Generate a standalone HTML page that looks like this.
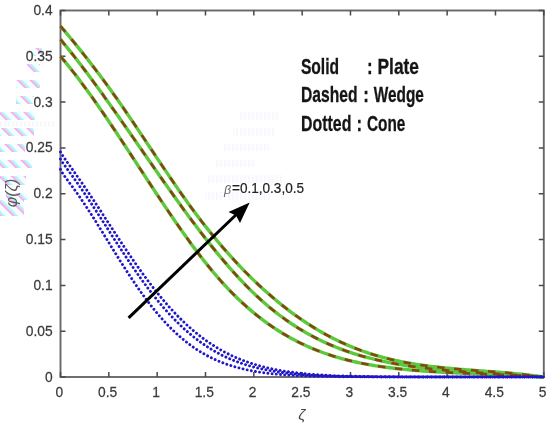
<!DOCTYPE html>
<html><head><meta charset="utf-8"><style>
html,body{margin:0;padding:0;background:#fff;}
body{width:550px;height:429px;overflow:hidden;}
svg{display:block;will-change:transform;}
text{font-family:"Liberation Sans",sans-serif;}
.tl text{font-size:15px;fill:#3a3a3a;stroke:#3a3a3a;stroke-width:0.25;}
.g{fill:none;stroke:#5cc83a;stroke-width:3.4;stroke-linejoin:round;}
.d{fill:none;stroke:#864614;stroke-width:2.6;stroke-dasharray:7.5 9.5;}
.b{fill:none;stroke:#1e16c8;stroke-width:2.9;stroke-dasharray:0.01 4.2;stroke-linecap:round;}
.lg{font-family:"Liberation Sans",sans-serif;font-weight:bold;font-size:22.5px;fill:#151515;stroke:#151515;stroke-width:0.3;}
</style></head><body>
<svg width="550" height="429" viewBox="0 0 550 429">
<rect width="550" height="429" fill="#fff"/>
<defs>
<pattern id="dg" width="9" height="9" patternUnits="userSpaceOnUse" patternTransform="rotate(-45)">
<rect x="0" y="0" width="2.2" height="9" fill="#ff90e8"/><rect x="2.2" y="0" width="2.2" height="9" fill="#88f4f4"/><rect x="4.4" y="0" width="4.6" height="9" fill="#f2fefe"/>
</pattern>
<pattern id="vs" width="4" height="8" patternUnits="userSpaceOnUse">
<rect x="0" y="0" width="1.3" height="8" fill="#ffc8f0"/><rect x="1.3" y="0" width="1.3" height="8" fill="#c4fafa"/>
</pattern>
</defs>
<g fill="url(#dg)" opacity="0.75">
<rect x="32" y="48" width="10" height="8"/>
<rect x="27" y="64" width="13" height="8"/>
<rect x="16" y="80" width="24" height="8"/>
<rect x="16" y="96" width="18" height="8"/>
<rect x="0" y="112" width="35" height="8"/>
<rect x="0" y="128" width="34" height="8"/>
<rect x="0" y="144" width="25" height="8"/>
<rect x="0" y="160" width="32" height="8"/>
<rect x="0" y="176" width="26" height="9"/>
<rect x="6" y="193" width="22" height="7"/>
<rect x="0" y="200" width="24" height="16"/>
</g>
<g fill="url(#vs)" opacity="0.22">
<rect x="0" y="121" width="55" height="6"/>
<rect x="240" y="112" width="39" height="8"/>
<rect x="233" y="128" width="43" height="8"/>
<rect x="224" y="144" width="45" height="7"/>
<rect x="216" y="160" width="40" height="7"/>
<rect x="207" y="175" width="75" height="8"/>
<rect x="205" y="192" width="65" height="8"/>
</g>
<rect x="60.5" y="10.5" width="483.30" height="366.50" fill="none" stroke="#686868" stroke-width="1.9"/>
<path d="M60.5,377.00 h5 M543.8,377.00 h-5 M60.5,331.19 h5 M543.8,331.19 h-5 M60.5,285.38 h5 M543.8,285.38 h-5 M60.5,239.56 h5 M543.8,239.56 h-5 M60.5,193.75 h5 M543.8,193.75 h-5 M60.5,147.94 h5 M543.8,147.94 h-5 M60.5,102.12 h5 M543.8,102.12 h-5 M60.5,56.31 h5 M543.8,56.31 h-5 M60.5,10.50 h5 M543.8,10.50 h-5 M60.50,377.0 v-5 M60.50,10.5 v5 M108.83,377.0 v-5 M108.83,10.5 v5 M157.16,377.0 v-5 M157.16,10.5 v5 M205.49,377.0 v-5 M205.49,10.5 v5 M253.82,377.0 v-5 M253.82,10.5 v5 M302.15,377.0 v-5 M302.15,10.5 v5 M350.48,377.0 v-5 M350.48,10.5 v5 M398.81,377.0 v-5 M398.81,10.5 v5 M447.14,377.0 v-5 M447.14,10.5 v5 M495.47,377.0 v-5 M495.47,10.5 v5 M543.80,377.0 v-5 M543.80,10.5 v5" stroke="#4a4a4a" stroke-width="1.5" fill="none"/>
<path d="M60.50,26.19 L62.52,28.56 L64.54,30.96 L66.57,33.36 L68.59,35.78 L70.61,38.22 L72.63,40.67 L74.66,43.14 L76.68,45.63 L78.70,48.13 L80.72,50.65 L82.74,53.18 L84.77,55.73 L86.79,58.30 L88.81,60.89 L90.83,63.49 L92.85,66.12 L94.88,68.76 L96.90,71.42 L98.92,74.10 L100.94,76.80 L102.97,79.52 L104.99,82.25 L107.01,85.01 L109.03,87.79 L111.05,90.58 L113.08,93.40 L115.10,96.24 L117.12,99.10 L119.14,101.98 L121.17,104.88 L123.19,107.79 L125.21,110.72 L127.23,113.67 L129.25,116.63 L131.28,119.61 L133.30,122.60 L135.32,125.59 L137.34,128.60 L139.36,131.61 L141.39,134.63 L143.41,137.65 L145.43,140.68 L147.45,143.71 L149.48,146.75 L151.50,149.78 L153.52,152.81 L155.54,155.84 L157.56,158.86 L159.59,161.88 L161.61,164.90 L163.63,167.90 L165.65,170.90 L167.68,173.89 L169.70,176.86 L171.72,179.83 L173.74,182.78 L175.76,185.71 L177.79,188.63 L179.81,191.53 L181.83,194.41 L183.85,197.27 L185.87,200.11 L187.90,202.93 L189.92,205.72 L191.94,208.49 L193.96,211.23 L195.99,213.94 L198.01,216.63 L200.03,219.29 L202.05,221.92 L204.07,224.53 L206.10,227.11 L208.12,229.66 L210.14,232.18 L212.16,234.68 L214.19,237.15 L216.21,239.60 L218.23,242.02 L220.25,244.41 L222.27,246.77 L224.30,249.11 L226.32,251.43 L228.34,253.71 L230.36,255.97 L232.38,258.21 L234.41,260.42 L236.43,262.60 L238.45,264.76 L240.47,266.89 L242.50,269.00 L244.52,271.08 L246.54,273.13 L248.56,275.16 L250.58,277.17 L252.61,279.15 L254.63,281.10 L256.65,283.03 L258.67,284.93 L260.70,286.81 L262.72,288.67 L264.74,290.50 L266.76,292.30 L268.78,294.08 L270.81,295.84 L272.83,297.57 L274.85,299.28 L276.87,300.96 L278.89,302.62 L280.92,304.26 L282.94,305.87 L284.96,307.46 L286.98,309.02 L289.01,310.56 L291.03,312.07 L293.05,313.56 L295.07,315.03 L297.09,316.48 L299.12,317.90 L301.14,319.30 L303.16,320.67 L305.18,322.02 L307.21,323.35 L309.23,324.66 L311.25,325.94 L313.27,327.20 L315.29,328.43 L317.32,329.65 L319.34,330.84 L321.36,332.01 L323.38,333.15 L325.41,334.28 L327.43,335.38 L329.45,336.46 L331.47,337.51 L333.49,338.55 L335.52,339.56 L337.54,340.55 L339.56,341.52 L341.58,342.47 L343.60,343.39 L345.63,344.30 L347.65,345.18 L349.67,346.04 L351.69,346.88 L353.72,347.70 L355.74,348.49 L357.76,349.27 L359.78,350.03 L361.80,350.76 L363.83,351.48 L365.85,352.18 L367.87,352.86 L369.89,353.52 L371.92,354.16 L373.94,354.78 L375.96,355.39 L377.98,355.98 L380.00,356.55 L382.03,357.11 L384.05,357.64 L386.07,358.17 L388.09,358.68 L390.11,359.17 L392.14,359.65 L394.16,360.11 L396.18,360.56 L398.20,360.99 L400.23,361.41 L402.25,361.82 L404.27,362.22 L406.29,362.60 L408.31,362.97 L410.34,363.33 L412.36,363.67 L414.38,364.01 L416.40,364.33 L418.43,364.65 L420.45,364.95 L422.47,365.24 L424.49,365.53 L426.51,365.80 L428.54,366.07 L430.56,366.32 L432.58,366.57 L434.60,366.81 L436.62,367.05 L438.65,367.27 L440.67,367.49 L442.69,367.70 L444.71,367.91 L446.74,368.11 L448.76,368.30 L450.78,368.49 L452.80,368.67 L454.82,368.85 L456.85,369.02 L458.87,369.19 L460.89,369.36 L462.91,369.52 L464.94,369.68 L466.96,369.84 L468.98,369.99 L471.00,370.15 L473.02,370.30 L475.05,370.45 L477.07,370.60 L479.09,370.74 L481.11,370.89 L483.13,371.04 L485.16,371.19 L487.18,371.34 L489.20,371.48 L491.22,371.64 L493.25,371.79 L495.27,371.94 L497.29,372.10 L499.31,372.26 L501.33,372.42 L503.36,372.58 L505.38,372.75 L507.40,372.92 L509.42,373.10 L511.45,373.28 L513.47,373.47 L515.49,373.66 L517.51,373.85 L519.53,374.06 L521.56,374.27 L523.58,374.48 L525.60,374.70 L527.62,374.93 L529.64,375.17 L531.67,375.41 L533.69,375.67 L535.71,375.93 L537.73,376.20 L539.76,376.48 L541.78,376.77 L543.80,377.00" class="g"/><path d="M60.50,39.43 L62.52,41.87 L64.54,44.33 L66.57,46.82 L68.59,49.33 L70.61,51.86 L72.63,54.41 L74.66,56.98 L76.68,59.57 L78.70,62.18 L80.72,64.81 L82.74,67.46 L84.77,70.13 L86.79,72.82 L88.81,75.52 L90.83,78.23 L92.85,80.97 L94.88,83.71 L96.90,86.48 L98.92,89.25 L100.94,92.04 L102.97,94.84 L104.99,97.65 L107.01,100.47 L109.03,103.30 L111.05,106.14 L113.08,109.00 L115.10,111.86 L117.12,114.72 L119.14,117.60 L121.17,120.48 L123.19,123.37 L125.21,126.26 L127.23,129.16 L129.25,132.06 L131.28,134.96 L133.30,137.87 L135.32,140.78 L137.34,143.69 L139.36,146.61 L141.39,149.52 L143.41,152.43 L145.43,155.34 L147.45,158.25 L149.48,161.16 L151.50,164.07 L153.52,166.97 L155.54,169.87 L157.56,172.76 L159.59,175.65 L161.61,178.53 L163.63,181.41 L165.65,184.28 L167.68,187.14 L169.70,189.99 L171.72,192.84 L173.74,195.67 L175.76,198.50 L177.79,201.31 L179.81,204.11 L181.83,206.90 L183.85,209.68 L185.87,212.44 L187.90,215.19 L189.92,217.93 L191.94,220.65 L193.96,223.35 L195.99,226.04 L198.01,228.71 L200.03,231.37 L202.05,234.00 L204.07,236.62 L206.10,239.21 L208.12,241.79 L210.14,244.34 L212.16,246.88 L214.19,249.39 L216.21,251.88 L218.23,254.35 L220.25,256.79 L222.27,259.21 L224.30,261.60 L226.32,263.96 L228.34,266.31 L230.36,268.62 L232.38,270.90 L234.41,273.16 L236.43,275.39 L238.45,277.59 L240.47,279.76 L242.50,281.90 L244.52,284.00 L246.54,286.08 L248.56,288.12 L250.58,290.13 L252.61,292.10 L254.63,294.04 L256.65,295.95 L258.67,297.82 L260.70,299.66 L262.72,301.46 L264.74,303.23 L266.76,304.97 L268.78,306.68 L270.81,308.35 L272.83,309.99 L274.85,311.60 L276.87,313.18 L278.89,314.73 L280.92,316.24 L282.94,317.73 L284.96,319.19 L286.98,320.62 L289.01,322.02 L291.03,323.39 L293.05,324.73 L295.07,326.04 L297.09,327.33 L299.12,328.59 L301.14,329.82 L303.16,331.02 L305.18,332.20 L307.21,333.36 L309.23,334.48 L311.25,335.59 L313.27,336.66 L315.29,337.72 L317.32,338.75 L319.34,339.75 L321.36,340.73 L323.38,341.69 L325.41,342.63 L327.43,343.54 L329.45,344.44 L331.47,345.31 L333.49,346.16 L335.52,346.98 L337.54,347.79 L339.56,348.58 L341.58,349.35 L343.60,350.10 L345.63,350.83 L347.65,351.54 L349.67,352.23 L351.69,352.90 L353.72,353.56 L355.74,354.20 L357.76,354.82 L359.78,355.42 L361.80,356.01 L363.83,356.59 L365.85,357.14 L367.87,357.68 L369.89,358.21 L371.92,358.72 L373.94,359.22 L375.96,359.71 L377.98,360.18 L380.00,360.64 L382.03,361.08 L384.05,361.51 L386.07,361.93 L388.09,362.34 L390.11,362.74 L392.14,363.13 L394.16,363.50 L396.18,363.87 L398.20,364.23 L400.23,364.57 L402.25,364.91 L404.27,365.24 L406.29,365.55 L408.31,365.86 L410.34,366.17 L412.36,366.46 L414.38,366.74 L416.40,367.02 L418.43,367.29 L420.45,367.55 L422.47,367.81 L424.49,368.05 L426.51,368.29 L428.54,368.53 L430.56,368.75 L432.58,368.97 L434.60,369.19 L436.62,369.40 L438.65,369.60 L440.67,369.80 L442.69,369.99 L444.71,370.17 L446.74,370.35 L448.76,370.53 L450.78,370.70 L452.80,370.87 L454.82,371.03 L456.85,371.19 L458.87,371.35 L460.89,371.50 L462.91,371.65 L464.94,371.79 L466.96,371.93 L468.98,372.07 L471.00,372.21 L473.02,372.34 L475.05,372.48 L477.07,372.61 L479.09,372.73 L481.11,372.86 L483.13,372.99 L485.16,373.11 L487.18,373.23 L489.20,373.35 L491.22,373.47 L493.25,373.59 L495.27,373.71 L497.29,373.83 L499.31,373.96 L501.33,374.08 L503.36,374.20 L505.38,374.32 L507.40,374.44 L509.42,374.57 L511.45,374.69 L513.47,374.82 L515.49,374.95 L517.51,375.08 L519.53,375.21 L521.56,375.34 L523.58,375.48 L525.60,375.62 L527.62,375.76 L529.64,375.91 L531.67,376.06 L533.69,376.21 L535.71,376.37 L537.73,376.53 L539.76,376.69 L541.78,376.86 L543.80,377.00" class="g"/><path d="M60.50,56.38 L62.52,58.76 L64.54,61.18 L66.57,63.63 L68.59,66.12 L70.61,68.64 L72.63,71.20 L74.66,73.78 L76.68,76.40 L78.70,79.05 L80.72,81.73 L82.74,84.43 L84.77,87.17 L86.79,89.93 L88.81,92.71 L90.83,95.52 L92.85,98.35 L94.88,101.20 L96.90,104.08 L98.92,106.97 L100.94,109.89 L102.97,112.82 L104.99,115.77 L107.01,118.74 L109.03,121.72 L111.05,124.71 L113.08,127.72 L115.10,130.74 L117.12,133.78 L119.14,136.82 L121.17,139.87 L123.19,142.93 L125.21,146.00 L127.23,149.07 L129.25,152.15 L131.28,155.24 L133.30,158.32 L135.32,161.41 L137.34,164.51 L139.36,167.60 L141.39,170.69 L143.41,173.78 L145.43,176.87 L147.45,179.95 L149.48,183.03 L151.50,186.10 L153.52,189.17 L155.54,192.23 L157.56,195.28 L159.59,198.32 L161.61,201.35 L163.63,204.37 L165.65,207.38 L167.68,210.37 L169.70,213.35 L171.72,216.31 L173.74,219.26 L175.76,222.19 L177.79,225.10 L179.81,228.00 L181.83,230.87 L183.85,233.72 L185.87,236.55 L187.90,239.35 L189.92,242.13 L191.94,244.89 L193.96,247.62 L195.99,250.32 L198.01,252.99 L200.03,255.64 L202.05,258.25 L204.07,260.84 L206.10,263.39 L208.12,265.90 L210.14,268.39 L212.16,270.83 L214.19,273.25 L216.21,275.62 L218.23,277.96 L220.25,280.25 L222.27,282.51 L224.30,284.73 L226.32,286.91 L228.34,289.05 L230.36,291.15 L232.38,293.21 L234.41,295.24 L236.43,297.23 L238.45,299.18 L240.47,301.09 L242.50,302.97 L244.52,304.81 L246.54,306.62 L248.56,308.39 L250.58,310.13 L252.61,311.83 L254.63,313.50 L256.65,315.14 L258.67,316.74 L260.70,318.31 L262.72,319.85 L264.74,321.35 L266.76,322.83 L268.78,324.27 L270.81,325.68 L272.83,327.06 L274.85,328.41 L276.87,329.73 L278.89,331.02 L280.92,332.29 L282.94,333.52 L284.96,334.73 L286.98,335.90 L289.01,337.05 L291.03,338.18 L293.05,339.27 L295.07,340.34 L297.09,341.39 L299.12,342.40 L301.14,343.40 L303.16,344.36 L305.18,345.31 L307.21,346.23 L309.23,347.12 L311.25,347.99 L313.27,348.84 L315.29,349.67 L317.32,350.47 L319.34,351.26 L321.36,352.02 L323.38,352.76 L325.41,353.48 L327.43,354.17 L329.45,354.85 L331.47,355.51 L333.49,356.15 L335.52,356.77 L337.54,357.38 L339.56,357.96 L341.58,358.53 L343.60,359.08 L345.63,359.61 L347.65,360.12 L349.67,360.62 L351.69,361.11 L353.72,361.58 L355.74,362.03 L357.76,362.47 L359.78,362.89 L361.80,363.30 L363.83,363.70 L365.85,364.08 L367.87,364.45 L369.89,364.81 L371.92,365.16 L373.94,365.49 L375.96,365.82 L377.98,366.13 L380.00,366.43 L382.03,366.72 L384.05,367.00 L386.07,367.28 L388.09,367.54 L390.11,367.79 L392.14,368.04 L394.16,368.28 L396.18,368.51 L398.20,368.73 L400.23,368.95 L402.25,369.16 L404.27,369.37 L406.29,369.56 L408.31,369.76 L410.34,369.94 L412.36,370.12 L414.38,370.30 L416.40,370.46 L418.43,370.63 L420.45,370.79 L422.47,370.94 L424.49,371.09 L426.51,371.23 L428.54,371.37 L430.56,371.51 L432.58,371.64 L434.60,371.77 L436.62,371.89 L438.65,372.01 L440.67,372.13 L442.69,372.24 L444.71,372.35 L446.74,372.45 L448.76,372.56 L450.78,372.66 L452.80,372.76 L454.82,372.85 L456.85,372.95 L458.87,373.04 L460.89,373.13 L462.91,373.21 L464.94,373.30 L466.96,373.38 L468.98,373.47 L471.00,373.55 L473.02,373.63 L475.05,373.71 L477.07,373.79 L479.09,373.87 L481.11,373.94 L483.13,374.02 L485.16,374.10 L487.18,374.18 L489.20,374.26 L491.22,374.34 L493.25,374.41 L495.27,374.49 L497.29,374.58 L499.31,374.66 L501.33,374.74 L503.36,374.82 L505.38,374.91 L507.40,375.00 L509.42,375.09 L511.45,375.18 L513.47,375.27 L515.49,375.37 L517.51,375.47 L519.53,375.57 L521.56,375.67 L523.58,375.78 L525.60,375.89 L527.62,376.00 L529.64,376.12 L531.67,376.24 L533.69,376.36 L535.71,376.49 L537.73,376.62 L539.76,376.76 L541.78,376.90 L543.80,377.00" class="g"/>
<path d="M60.50,26.19 L62.52,28.56 L64.54,30.96 L66.57,33.36 L68.59,35.78 L70.61,38.22 L72.63,40.67 L74.66,43.14 L76.68,45.63 L78.70,48.13 L80.72,50.65 L82.74,53.18 L84.77,55.73 L86.79,58.30 L88.81,60.89 L90.83,63.49 L92.85,66.12 L94.88,68.76 L96.90,71.42 L98.92,74.10 L100.94,76.80 L102.97,79.52 L104.99,82.25 L107.01,85.01 L109.03,87.79 L111.05,90.58 L113.08,93.40 L115.10,96.24 L117.12,99.10 L119.14,101.98 L121.17,104.88 L123.19,107.79 L125.21,110.72 L127.23,113.67 L129.25,116.63 L131.28,119.61 L133.30,122.60 L135.32,125.59 L137.34,128.60 L139.36,131.61 L141.39,134.63 L143.41,137.65 L145.43,140.68 L147.45,143.71 L149.48,146.75 L151.50,149.78 L153.52,152.81 L155.54,155.84 L157.56,158.86 L159.59,161.88 L161.61,164.90 L163.63,167.90 L165.65,170.90 L167.68,173.89 L169.70,176.86 L171.72,179.83 L173.74,182.78 L175.76,185.71 L177.79,188.63 L179.81,191.53 L181.83,194.41 L183.85,197.27 L185.87,200.11 L187.90,202.93 L189.92,205.72 L191.94,208.49 L193.96,211.23 L195.99,213.94 L198.01,216.63 L200.03,219.29 L202.05,221.92 L204.07,224.53 L206.10,227.11 L208.12,229.66 L210.14,232.18 L212.16,234.68 L214.19,237.15 L216.21,239.60 L218.23,242.02 L220.25,244.41 L222.27,246.77 L224.30,249.11 L226.32,251.43 L228.34,253.71 L230.36,255.97 L232.38,258.21 L234.41,260.42 L236.43,262.60 L238.45,264.76 L240.47,266.89 L242.50,269.00 L244.52,271.08 L246.54,273.13 L248.56,275.16 L250.58,277.17 L252.61,279.15 L254.63,281.10 L256.65,283.03 L258.67,284.93 L260.70,286.81 L262.72,288.67 L264.74,290.50 L266.76,292.30 L268.78,294.08 L270.81,295.84 L272.83,297.57 L274.85,299.28 L276.87,300.96 L278.89,302.62 L280.92,304.26 L282.94,305.87 L284.96,307.46 L286.98,309.02 L289.01,310.56 L291.03,312.07 L293.05,313.56 L295.07,315.03 L297.09,316.48 L299.12,317.90 L301.14,319.30 L303.16,320.67 L305.18,322.02 L307.21,323.35 L309.23,324.66 L311.25,325.94 L313.27,327.20 L315.29,328.43 L317.32,329.65 L319.34,330.84 L321.36,332.01 L323.38,333.15 L325.41,334.28 L327.43,335.38 L329.45,336.46 L331.47,337.51 L333.49,338.55 L335.52,339.56 L337.54,340.55 L339.56,341.52 L341.58,342.47 L343.60,343.39 L345.63,344.30 L347.65,345.18 L349.67,346.04 L351.69,346.88 L353.72,347.70 L355.74,348.49 L357.76,349.27 L359.78,350.03 L361.80,350.76 L363.83,351.48 L365.85,352.18 L367.87,352.86 L369.89,353.52 L371.92,354.16 L373.94,354.78 L375.96,355.39 L377.98,355.98 L380.00,356.55 L382.03,357.11 L384.05,357.64 L386.07,358.17 L388.09,358.68 L390.11,359.17 L392.14,359.65 L394.16,360.11 L396.18,360.56 L398.20,360.99 L400.23,361.41 L402.25,361.82 L404.27,362.22 L406.29,362.60 L408.31,362.97 L410.34,363.33 L412.36,363.67 L414.38,364.01 L416.40,364.33 L418.43,364.65 L420.45,364.95 L422.47,365.24 L424.49,365.53 L426.51,365.80 L428.54,366.07 L430.56,366.32 L432.58,366.57 L434.60,366.81 L436.62,367.05 L438.65,367.27 L440.67,367.49 L442.69,367.70 L444.71,367.91 L446.74,368.11 L448.76,368.30 L450.78,368.49 L452.80,368.67 L454.82,368.85 L456.85,369.02 L458.87,369.19 L460.89,369.36 L462.91,369.52 L464.94,369.68 L466.96,369.84 L468.98,369.99 L471.00,370.15 L473.02,370.30 L475.05,370.45 L477.07,370.60 L479.09,370.74 L481.11,370.89 L483.13,371.04 L485.16,371.19 L487.18,371.34 L489.20,371.48 L491.22,371.64 L493.25,371.79 L495.27,371.94 L497.29,372.10 L499.31,372.26 L501.33,372.42 L503.36,372.58 L505.38,372.75 L507.40,372.92 L509.42,373.10 L511.45,373.28 L513.47,373.47 L515.49,373.66 L517.51,373.85 L519.53,374.06 L521.56,374.27 L523.58,374.48 L525.60,374.70 L527.62,374.93 L529.64,375.17 L531.67,375.41 L533.69,375.67 L535.71,375.93 L537.73,376.20 L539.76,376.48 L541.78,376.77 L543.80,377.00" class="d"/><path d="M60.50,39.43 L62.52,41.87 L64.54,44.33 L66.57,46.82 L68.59,49.33 L70.61,51.86 L72.63,54.41 L74.66,56.98 L76.68,59.57 L78.70,62.18 L80.72,64.81 L82.74,67.46 L84.77,70.13 L86.79,72.82 L88.81,75.52 L90.83,78.23 L92.85,80.97 L94.88,83.71 L96.90,86.48 L98.92,89.25 L100.94,92.04 L102.97,94.84 L104.99,97.65 L107.01,100.47 L109.03,103.30 L111.05,106.14 L113.08,109.00 L115.10,111.86 L117.12,114.72 L119.14,117.60 L121.17,120.48 L123.19,123.37 L125.21,126.26 L127.23,129.16 L129.25,132.06 L131.28,134.96 L133.30,137.87 L135.32,140.78 L137.34,143.69 L139.36,146.61 L141.39,149.52 L143.41,152.43 L145.43,155.34 L147.45,158.25 L149.48,161.16 L151.50,164.07 L153.52,166.97 L155.54,169.87 L157.56,172.76 L159.59,175.65 L161.61,178.53 L163.63,181.41 L165.65,184.28 L167.68,187.14 L169.70,189.99 L171.72,192.84 L173.74,195.67 L175.76,198.50 L177.79,201.31 L179.81,204.11 L181.83,206.90 L183.85,209.68 L185.87,212.44 L187.90,215.19 L189.92,217.93 L191.94,220.65 L193.96,223.35 L195.99,226.04 L198.01,228.71 L200.03,231.37 L202.05,234.00 L204.07,236.62 L206.10,239.21 L208.12,241.79 L210.14,244.34 L212.16,246.88 L214.19,249.39 L216.21,251.88 L218.23,254.35 L220.25,256.79 L222.27,259.21 L224.30,261.60 L226.32,263.96 L228.34,266.31 L230.36,268.62 L232.38,270.90 L234.41,273.16 L236.43,275.39 L238.45,277.59 L240.47,279.76 L242.50,281.90 L244.52,284.00 L246.54,286.08 L248.56,288.12 L250.58,290.13 L252.61,292.10 L254.63,294.04 L256.65,295.95 L258.67,297.82 L260.70,299.66 L262.72,301.46 L264.74,303.23 L266.76,304.97 L268.78,306.68 L270.81,308.35 L272.83,309.99 L274.85,311.60 L276.87,313.18 L278.89,314.73 L280.92,316.24 L282.94,317.73 L284.96,319.19 L286.98,320.62 L289.01,322.02 L291.03,323.39 L293.05,324.73 L295.07,326.04 L297.09,327.33 L299.12,328.59 L301.14,329.82 L303.16,331.02 L305.18,332.20 L307.21,333.36 L309.23,334.48 L311.25,335.59 L313.27,336.66 L315.29,337.72 L317.32,338.75 L319.34,339.75 L321.36,340.73 L323.38,341.69 L325.41,342.63 L327.43,343.54 L329.45,344.44 L331.47,345.31 L333.49,346.16 L335.52,346.98 L337.54,347.79 L339.56,348.58 L341.58,349.35 L343.60,350.10 L345.63,350.83 L347.65,351.54 L349.67,352.23 L351.69,352.90 L353.72,353.56 L355.74,354.20 L357.76,354.82 L359.78,355.42 L361.80,356.01 L363.83,356.59 L365.85,357.14 L367.87,357.68 L369.89,358.21 L371.92,358.72 L373.94,359.22 L375.96,359.71 L377.98,360.18 L380.00,360.64 L382.03,361.08 L384.05,361.51 L386.07,361.93 L388.09,362.34 L390.11,362.74 L392.14,363.13 L394.16,363.50 L396.18,363.87 L398.20,364.23 L400.23,364.57 L402.25,364.91 L404.27,365.24 L406.29,365.55 L408.31,365.86 L410.34,366.17 L412.36,366.46 L414.38,366.74 L416.40,367.02 L418.43,367.29 L420.45,367.55 L422.47,367.81 L424.49,368.05 L426.51,368.29 L428.54,368.53 L430.56,368.75 L432.58,368.97 L434.60,369.19 L436.62,369.40 L438.65,369.60 L440.67,369.80 L442.69,369.99 L444.71,370.17 L446.74,370.35 L448.76,370.53 L450.78,370.70 L452.80,370.87 L454.82,371.03 L456.85,371.19 L458.87,371.35 L460.89,371.50 L462.91,371.65 L464.94,371.79 L466.96,371.93 L468.98,372.07 L471.00,372.21 L473.02,372.34 L475.05,372.48 L477.07,372.61 L479.09,372.73 L481.11,372.86 L483.13,372.99 L485.16,373.11 L487.18,373.23 L489.20,373.35 L491.22,373.47 L493.25,373.59 L495.27,373.71 L497.29,373.83 L499.31,373.96 L501.33,374.08 L503.36,374.20 L505.38,374.32 L507.40,374.44 L509.42,374.57 L511.45,374.69 L513.47,374.82 L515.49,374.95 L517.51,375.08 L519.53,375.21 L521.56,375.34 L523.58,375.48 L525.60,375.62 L527.62,375.76 L529.64,375.91 L531.67,376.06 L533.69,376.21 L535.71,376.37 L537.73,376.53 L539.76,376.69 L541.78,376.86 L543.80,377.00" class="d"/><path d="M60.50,56.38 L62.52,58.76 L64.54,61.18 L66.57,63.63 L68.59,66.12 L70.61,68.64 L72.63,71.20 L74.66,73.78 L76.68,76.40 L78.70,79.05 L80.72,81.73 L82.74,84.43 L84.77,87.17 L86.79,89.93 L88.81,92.71 L90.83,95.52 L92.85,98.35 L94.88,101.20 L96.90,104.08 L98.92,106.97 L100.94,109.89 L102.97,112.82 L104.99,115.77 L107.01,118.74 L109.03,121.72 L111.05,124.71 L113.08,127.72 L115.10,130.74 L117.12,133.78 L119.14,136.82 L121.17,139.87 L123.19,142.93 L125.21,146.00 L127.23,149.07 L129.25,152.15 L131.28,155.24 L133.30,158.32 L135.32,161.41 L137.34,164.51 L139.36,167.60 L141.39,170.69 L143.41,173.78 L145.43,176.87 L147.45,179.95 L149.48,183.03 L151.50,186.10 L153.52,189.17 L155.54,192.23 L157.56,195.28 L159.59,198.32 L161.61,201.35 L163.63,204.37 L165.65,207.38 L167.68,210.37 L169.70,213.35 L171.72,216.31 L173.74,219.26 L175.76,222.19 L177.79,225.10 L179.81,228.00 L181.83,230.87 L183.85,233.72 L185.87,236.55 L187.90,239.35 L189.92,242.13 L191.94,244.89 L193.96,247.62 L195.99,250.32 L198.01,252.99 L200.03,255.64 L202.05,258.25 L204.07,260.84 L206.10,263.39 L208.12,265.90 L210.14,268.39 L212.16,270.83 L214.19,273.25 L216.21,275.62 L218.23,277.96 L220.25,280.25 L222.27,282.51 L224.30,284.73 L226.32,286.91 L228.34,289.05 L230.36,291.15 L232.38,293.21 L234.41,295.24 L236.43,297.23 L238.45,299.18 L240.47,301.09 L242.50,302.97 L244.52,304.81 L246.54,306.62 L248.56,308.39 L250.58,310.13 L252.61,311.83 L254.63,313.50 L256.65,315.14 L258.67,316.74 L260.70,318.31 L262.72,319.85 L264.74,321.35 L266.76,322.83 L268.78,324.27 L270.81,325.68 L272.83,327.06 L274.85,328.41 L276.87,329.73 L278.89,331.02 L280.92,332.29 L282.94,333.52 L284.96,334.73 L286.98,335.90 L289.01,337.05 L291.03,338.18 L293.05,339.27 L295.07,340.34 L297.09,341.39 L299.12,342.40 L301.14,343.40 L303.16,344.36 L305.18,345.31 L307.21,346.23 L309.23,347.12 L311.25,347.99 L313.27,348.84 L315.29,349.67 L317.32,350.47 L319.34,351.26 L321.36,352.02 L323.38,352.76 L325.41,353.48 L327.43,354.17 L329.45,354.85 L331.47,355.51 L333.49,356.15 L335.52,356.77 L337.54,357.38 L339.56,357.96 L341.58,358.53 L343.60,359.08 L345.63,359.61 L347.65,360.12 L349.67,360.62 L351.69,361.11 L353.72,361.58 L355.74,362.03 L357.76,362.47 L359.78,362.89 L361.80,363.30 L363.83,363.70 L365.85,364.08 L367.87,364.45 L369.89,364.81 L371.92,365.16 L373.94,365.49 L375.96,365.82 L377.98,366.13 L380.00,366.43 L382.03,366.72 L384.05,367.00 L386.07,367.28 L388.09,367.54 L390.11,367.79 L392.14,368.04 L394.16,368.28 L396.18,368.51 L398.20,368.73 L400.23,368.95 L402.25,369.16 L404.27,369.37 L406.29,369.56 L408.31,369.76 L410.34,369.94 L412.36,370.12 L414.38,370.30 L416.40,370.46 L418.43,370.63 L420.45,370.79 L422.47,370.94 L424.49,371.09 L426.51,371.23 L428.54,371.37 L430.56,371.51 L432.58,371.64 L434.60,371.77 L436.62,371.89 L438.65,372.01 L440.67,372.13 L442.69,372.24 L444.71,372.35 L446.74,372.45 L448.76,372.56 L450.78,372.66 L452.80,372.76 L454.82,372.85 L456.85,372.95 L458.87,373.04 L460.89,373.13 L462.91,373.21 L464.94,373.30 L466.96,373.38 L468.98,373.47 L471.00,373.55 L473.02,373.63 L475.05,373.71 L477.07,373.79 L479.09,373.87 L481.11,373.94 L483.13,374.02 L485.16,374.10 L487.18,374.18 L489.20,374.26 L491.22,374.34 L493.25,374.41 L495.27,374.49 L497.29,374.58 L499.31,374.66 L501.33,374.74 L503.36,374.82 L505.38,374.91 L507.40,375.00 L509.42,375.09 L511.45,375.18 L513.47,375.27 L515.49,375.37 L517.51,375.47 L519.53,375.57 L521.56,375.67 L523.58,375.78 L525.60,375.89 L527.62,376.00 L529.64,376.12 L531.67,376.24 L533.69,376.36 L535.71,376.49 L537.73,376.62 L539.76,376.76 L541.78,376.90 L543.80,377.00" class="d"/>
<path d="M60.50,151.98 L61.71,154.17 L62.92,156.03 L64.13,157.80 L65.35,159.53 L66.56,161.24 L67.77,162.93 L68.98,164.62 L70.19,166.31 L71.40,168.00 L72.61,169.69 L73.82,171.39 L75.04,173.10 L76.25,174.82 L77.46,176.54 L78.67,178.27 L79.88,180.01 L81.09,181.76 L82.30,183.51 L83.51,185.28 L84.73,187.05 L85.94,188.84 L87.15,190.63 L88.36,192.42 L89.57,194.23 L90.78,196.04 L91.99,197.86 L93.20,199.68 L94.42,201.51 L95.63,203.35 L96.84,205.19 L98.05,207.03 L99.26,208.88 L100.47,210.73 L101.68,212.59 L102.89,214.44 L104.11,216.30 L105.32,218.16 L106.53,220.02 L107.74,221.88 L108.95,223.74 L110.16,225.60 L111.37,227.46 L112.58,229.32 L113.80,231.17 L115.01,233.03 L116.22,234.87 L117.43,236.72 L118.64,238.56 L119.85,240.40 L121.06,242.23 L122.28,244.06 L123.49,245.88 L124.70,247.69 L125.91,249.50 L127.12,251.30 L128.33,253.09 L129.54,254.88 L130.75,256.66 L131.97,258.42 L133.18,260.18 L134.39,261.93 L135.60,263.67 L136.81,265.40 L138.02,267.12 L139.23,268.83 L140.44,270.53 L141.66,272.21 L142.87,273.88 L144.08,275.55 L145.29,277.20 L146.50,278.83 L147.71,280.46 L148.92,282.07 L150.13,283.66 L151.35,285.25 L152.56,286.82 L153.77,288.37 L154.98,289.91 L156.19,291.44 L157.40,292.95 L158.61,294.45 L159.82,295.93 L161.04,297.40 L162.25,298.85 L163.46,300.29 L164.67,301.71 L165.88,303.12 L167.09,304.51 L168.30,305.88 L169.52,307.24 L170.73,308.58 L171.94,309.90 L173.15,311.21 L174.36,312.51 L175.57,313.78 L176.78,315.04 L177.99,316.29 L179.21,317.51 L180.42,318.72 L181.63,319.92 L182.84,321.10 L184.05,322.26 L185.26,323.40 L186.47,324.53 L187.68,325.64 L188.90,326.74 L190.11,327.82 L191.32,328.88 L192.53,329.93 L193.74,330.96 L194.95,331.97 L196.16,332.97 L197.37,333.96 L198.59,334.92 L199.80,335.87 L201.01,336.81 L202.22,337.73 L203.43,338.63 L204.64,339.52 L205.85,340.39 L207.06,341.25 L208.28,342.09 L209.49,342.92 L210.70,343.73 L211.91,344.53 L213.12,345.31 L214.33,346.08 L215.54,346.84 L216.75,347.58 L217.97,348.30 L219.18,349.02 L220.39,349.71 L221.60,350.40 L222.81,351.07 L224.02,351.73 L225.23,352.37 L226.45,353.00 L227.66,353.62 L228.87,354.23 L230.08,354.82 L231.29,355.40 L232.50,355.97 L233.71,356.53 L234.92,357.07 L236.14,357.61 L237.35,358.13 L238.56,358.64 L239.77,359.13 L240.98,359.62 L242.19,360.10 L243.40,360.56 L244.61,361.02 L245.83,361.46 L247.04,361.90 L248.25,362.32 L249.46,362.74 L250.67,363.14 L251.88,363.54 L253.09,363.92 L254.30,364.30 L255.52,364.67 L256.73,365.03 L257.94,365.38 L259.15,365.72 L260.36,366.05 L261.57,366.37 L262.78,366.69 L263.99,367.00 L265.21,367.30 L266.42,367.59 L267.63,367.88 L268.84,368.15 L270.05,368.42 L271.26,368.69 L272.47,368.94 L273.68,369.19 L274.90,369.43 L276.11,369.67 L277.32,369.90 L278.53,370.12 L279.74,370.34 L280.95,370.55 L282.16,370.76 L283.38,370.96 L284.59,371.15 L285.80,371.34 L287.01,371.53 L288.22,371.70 L289.43,371.88 L290.64,372.05 L291.85,372.21 L293.07,372.37 L294.28,372.52 L295.49,372.67 L296.70,372.82 L297.91,372.96 L299.12,373.09 L300.33,373.23 L301.54,373.35 L302.76,373.48 L303.97,373.60 L305.18,373.72 L306.39,373.83 L307.60,373.94 L308.81,374.05 L310.02,374.15 L311.23,374.25 L312.45,374.35 L313.66,374.44 L314.87,374.53 L316.08,374.62 L317.29,374.70 L318.50,374.79 L319.71,374.87 L320.92,374.94 L322.14,375.02 L323.35,375.09 L324.56,375.16 L325.77,375.23 L326.98,375.29 L328.19,375.36 L329.40,375.42 L330.62,375.48 L331.83,375.53 L333.04,375.59 L334.25,375.64 L335.46,375.69 L336.67,375.74 L337.88,375.79 L339.09,375.84 L340.31,375.88 L341.52,375.92 L342.73,375.96 L343.94,376.00 L345.15,376.04 L346.36,376.08 L347.57,376.12 L348.78,376.15 L350.00,376.18 L351.21,376.22 L352.42,376.25 L353.63,376.28 L354.84,376.31 L356.05,376.33 L357.26,376.36 L358.47,376.39 L359.69,376.41 L360.90,376.44 L362.11,376.46 L363.32,376.48 L364.53,376.50 L365.74,376.52 L366.95,376.54 L368.16,376.56 L369.38,376.58 L370.59,376.60 L371.80,376.61 L373.01,376.63 L374.22,376.64 L375.43,376.66 L376.64,376.67 L377.85,376.69 L379.07,376.70 L380.28,376.71 L381.49,376.73 L382.70,376.74 L383.91,376.75 L385.12,376.76 L386.33,376.77 L387.55,376.78 L388.76,376.79 L389.97,376.80 L391.18,376.81 L392.39,376.82 L393.60,376.82 L394.81,376.83 L396.02,376.84 L397.24,376.85 L398.45,376.85 L399.66,376.86 L400.87,376.87 L402.08,376.87 L403.29,376.88 L404.50,376.88 L405.71,376.89 L406.93,376.89 L408.14,376.90 L409.35,376.90 L410.56,376.91 L411.77,376.91 L412.98,376.92 L414.19,376.92 L415.40,376.92 L416.62,376.93 L417.83,376.93 L419.04,376.93 L420.25,376.94 L421.46,376.94 L422.67,376.94 L423.88,376.95 L425.09,376.95 L426.31,376.95 L427.52,376.95 L428.73,376.96 L429.94,376.96 L431.15,376.96 L432.36,376.96 L433.57,376.96 L434.78,376.96 L436.00,376.97 L437.21,376.97 L438.42,376.97 L439.63,376.97 L440.84,376.97 L442.05,376.97 L443.26,376.98 L444.48,376.98 L445.69,376.98 L446.90,376.98 L448.11,376.98 L449.32,376.98 L450.53,376.98 L451.74,376.98 L452.95,376.98 L454.17,376.98 L455.38,376.99 L456.59,376.99 L457.80,376.99 L459.01,376.99 L460.22,376.99 L461.43,376.99 L462.64,376.99 L463.86,376.99 L465.07,376.99 L466.28,376.99 L467.49,376.99 L468.70,376.99 L469.91,376.99 L471.12,376.99 L472.33,376.99 L473.55,376.99 L474.76,376.99 L475.97,376.99 L477.18,376.99 L478.39,376.99 L479.60,377.00 L480.81,377.00 L482.02,377.00 L483.24,377.00 L484.45,377.00 L485.66,377.00 L486.87,377.00 L488.08,377.00 L489.29,377.00 L490.50,377.00 L491.72,377.00 L492.93,377.00 L494.14,377.00 L495.35,377.00 L496.56,377.00 L497.77,377.00 L498.98,377.00 L500.19,377.00 L501.41,377.00 L502.62,377.00 L503.83,377.00 L505.04,377.00 L506.25,377.00 L507.46,377.00 L508.67,377.00 L509.88,377.00 L511.10,377.00 L512.31,377.00 L513.52,377.00 L514.73,377.00 L515.94,377.00 L517.15,377.00 L518.36,377.00 L519.57,377.00 L520.79,377.00 L522.00,377.00 L523.21,377.00 L524.42,377.00 L525.63,377.00 L526.84,377.00 L528.05,377.00 L529.26,377.00 L530.48,377.00 L531.69,377.00 L532.90,377.00 L534.11,377.00 L535.32,377.00 L536.53,377.00 L537.74,377.00 L538.95,377.00 L540.17,377.00 L541.38,377.00 L542.59,377.00 L543.80,377.00" class="b"/><path d="M60.50,159.12 L61.71,161.18 L62.92,162.97 L64.13,164.69 L65.35,166.37 L66.56,168.04 L67.77,169.70 L68.98,171.36 L70.19,173.03 L71.40,174.70 L72.61,176.38 L73.82,178.07 L75.04,179.77 L76.25,181.48 L77.46,183.20 L78.67,184.93 L79.88,186.67 L81.09,188.42 L82.30,190.18 L83.51,191.96 L84.73,193.74 L85.94,195.54 L87.15,197.34 L88.36,199.15 L89.57,200.97 L90.78,202.80 L91.99,204.64 L93.20,206.48 L94.42,208.33 L95.63,210.18 L96.84,212.05 L98.05,213.91 L99.26,215.78 L100.47,217.66 L101.68,219.53 L102.89,221.41 L104.11,223.29 L105.32,225.18 L106.53,227.06 L107.74,228.94 L108.95,230.83 L110.16,232.71 L111.37,234.59 L112.58,236.47 L113.80,238.34 L115.01,240.22 L116.22,242.09 L117.43,243.95 L118.64,245.81 L119.85,247.67 L121.06,249.52 L122.28,251.36 L123.49,253.20 L124.70,255.03 L125.91,256.85 L127.12,258.66 L128.33,260.47 L129.54,262.27 L130.75,264.05 L131.97,265.83 L133.18,267.59 L134.39,269.35 L135.60,271.10 L136.81,272.83 L138.02,274.55 L139.23,276.26 L140.44,277.96 L141.66,279.64 L142.87,281.31 L144.08,282.97 L145.29,284.61 L146.50,286.24 L147.71,287.85 L148.92,289.45 L150.13,291.04 L151.35,292.61 L152.56,294.16 L153.77,295.70 L154.98,297.23 L156.19,298.73 L157.40,300.23 L158.61,301.70 L159.82,303.16 L161.04,304.60 L162.25,306.03 L163.46,307.44 L164.67,308.83 L165.88,310.20 L167.09,311.56 L168.30,312.90 L169.52,314.22 L170.73,315.53 L171.94,316.81 L173.15,318.08 L174.36,319.34 L175.57,320.57 L176.78,321.79 L177.99,322.99 L179.21,324.17 L180.42,325.34 L181.63,326.48 L182.84,327.61 L184.05,328.73 L185.26,329.82 L186.47,330.90 L187.68,331.96 L188.90,333.00 L190.11,334.03 L191.32,335.03 L192.53,336.02 L193.74,337.00 L194.95,337.96 L196.16,338.90 L197.37,339.82 L198.59,340.73 L199.80,341.62 L201.01,342.49 L202.22,343.35 L203.43,344.19 L204.64,345.02 L205.85,345.83 L207.06,346.62 L208.28,347.40 L209.49,348.16 L210.70,348.91 L211.91,349.64 L213.12,350.36 L214.33,351.07 L215.54,351.75 L216.75,352.43 L217.97,353.09 L219.18,353.74 L220.39,354.37 L221.60,354.99 L222.81,355.59 L224.02,356.18 L225.23,356.76 L226.45,357.33 L227.66,357.88 L228.87,358.42 L230.08,358.95 L231.29,359.47 L232.50,359.97 L233.71,360.46 L234.92,360.94 L236.14,361.41 L237.35,361.87 L238.56,362.31 L239.77,362.75 L240.98,363.17 L242.19,363.59 L243.40,363.99 L244.61,364.39 L245.83,364.77 L247.04,365.14 L248.25,365.51 L249.46,365.86 L250.67,366.21 L251.88,366.54 L253.09,366.87 L254.30,367.19 L255.52,367.50 L256.73,367.80 L257.94,368.10 L259.15,368.38 L260.36,368.66 L261.57,368.93 L262.78,369.19 L263.99,369.45 L265.21,369.70 L266.42,369.94 L267.63,370.17 L268.84,370.40 L270.05,370.62 L271.26,370.83 L272.47,371.04 L273.68,371.24 L274.90,371.44 L276.11,371.63 L277.32,371.81 L278.53,371.99 L279.74,372.17 L280.95,372.34 L282.16,372.50 L283.38,372.66 L284.59,372.81 L285.80,372.96 L287.01,373.10 L288.22,373.24 L289.43,373.38 L290.64,373.51 L291.85,373.63 L293.07,373.76 L294.28,373.87 L295.49,373.99 L296.70,374.10 L297.91,374.21 L299.12,374.31 L300.33,374.41 L301.54,374.51 L302.76,374.60 L303.97,374.69 L305.18,374.78 L306.39,374.86 L307.60,374.94 L308.81,375.02 L310.02,375.10 L311.23,375.17 L312.45,375.24 L313.66,375.31 L314.87,375.38 L316.08,375.44 L317.29,375.50 L318.50,375.56 L319.71,375.62 L320.92,375.67 L322.14,375.73 L323.35,375.78 L324.56,375.83 L325.77,375.87 L326.98,375.92 L328.19,375.96 L329.40,376.00 L330.62,376.05 L331.83,376.08 L333.04,376.12 L334.25,376.16 L335.46,376.19 L336.67,376.23 L337.88,376.26 L339.09,376.29 L340.31,376.32 L341.52,376.35 L342.73,376.38 L343.94,376.40 L345.15,376.43 L346.36,376.45 L347.57,376.48 L348.78,376.50 L350.00,376.52 L351.21,376.54 L352.42,376.56 L353.63,376.58 L354.84,376.60 L356.05,376.62 L357.26,376.63 L358.47,376.65 L359.69,376.67 L360.90,376.68 L362.11,376.69 L363.32,376.71 L364.53,376.72 L365.74,376.73 L366.95,376.75 L368.16,376.76 L369.38,376.77 L370.59,376.78 L371.80,376.79 L373.01,376.80 L374.22,376.81 L375.43,376.82 L376.64,376.83 L377.85,376.83 L379.07,376.84 L380.28,376.85 L381.49,376.86 L382.70,376.86 L383.91,376.87 L385.12,376.88 L386.33,376.88 L387.55,376.89 L388.76,376.89 L389.97,376.90 L391.18,376.90 L392.39,376.91 L393.60,376.91 L394.81,376.92 L396.02,376.92 L397.24,376.92 L398.45,376.93 L399.66,376.93 L400.87,376.93 L402.08,376.94 L403.29,376.94 L404.50,376.94 L405.71,376.95 L406.93,376.95 L408.14,376.95 L409.35,376.95 L410.56,376.96 L411.77,376.96 L412.98,376.96 L414.19,376.96 L415.40,376.96 L416.62,376.97 L417.83,376.97 L419.04,376.97 L420.25,376.97 L421.46,376.97 L422.67,376.97 L423.88,376.98 L425.09,376.98 L426.31,376.98 L427.52,376.98 L428.73,376.98 L429.94,376.98 L431.15,376.98 L432.36,376.98 L433.57,376.98 L434.78,376.99 L436.00,376.99 L437.21,376.99 L438.42,376.99 L439.63,376.99 L440.84,376.99 L442.05,376.99 L443.26,376.99 L444.48,376.99 L445.69,376.99 L446.90,376.99 L448.11,376.99 L449.32,376.99 L450.53,376.99 L451.74,376.99 L452.95,376.99 L454.17,376.99 L455.38,376.99 L456.59,376.99 L457.80,376.99 L459.01,377.00 L460.22,377.00 L461.43,377.00 L462.64,377.00 L463.86,377.00 L465.07,377.00 L466.28,377.00 L467.49,377.00 L468.70,377.00 L469.91,377.00 L471.12,377.00 L472.33,377.00 L473.55,377.00 L474.76,377.00 L475.97,377.00 L477.18,377.00 L478.39,377.00 L479.60,377.00 L480.81,377.00 L482.02,377.00 L483.24,377.00 L484.45,377.00 L485.66,377.00 L486.87,377.00 L488.08,377.00 L489.29,377.00 L490.50,377.00 L491.72,377.00 L492.93,377.00 L494.14,377.00 L495.35,377.00 L496.56,377.00 L497.77,377.00 L498.98,377.00 L500.19,377.00 L501.41,377.00 L502.62,377.00 L503.83,377.00 L505.04,377.00 L506.25,377.00 L507.46,377.00 L508.67,377.00 L509.88,377.00 L511.10,377.00 L512.31,377.00 L513.52,377.00 L514.73,377.00 L515.94,377.00 L517.15,377.00 L518.36,377.00 L519.57,377.00 L520.79,377.00 L522.00,377.00 L523.21,377.00 L524.42,377.00 L525.63,377.00 L526.84,377.00 L528.05,377.00 L529.26,377.00 L530.48,377.00 L531.69,377.00 L532.90,377.00 L534.11,377.00 L535.32,377.00 L536.53,377.00 L537.74,377.00 L538.95,377.00 L540.17,377.00 L541.38,377.00 L542.59,377.00 L543.80,377.00" class="b"/><path d="M60.50,169.31 L61.71,171.84 L62.92,173.75 L64.13,175.52 L65.35,177.21 L66.56,178.86 L67.77,180.49 L68.98,182.12 L70.19,183.75 L71.40,185.39 L72.61,187.04 L73.82,188.70 L75.04,190.37 L76.25,192.06 L77.46,193.77 L78.67,195.50 L79.88,197.24 L81.09,199.00 L82.30,200.78 L83.51,202.57 L84.73,204.38 L85.94,206.20 L87.15,208.04 L88.36,209.90 L89.57,211.76 L90.78,213.64 L91.99,215.53 L93.20,217.44 L94.42,219.35 L95.63,221.27 L96.84,223.20 L98.05,225.14 L99.26,227.09 L100.47,229.04 L101.68,230.99 L102.89,232.96 L104.11,234.92 L105.32,236.88 L106.53,238.85 L107.74,240.82 L108.95,242.79 L110.16,244.75 L111.37,246.72 L112.58,248.68 L113.80,250.64 L115.01,252.59 L116.22,254.54 L117.43,256.49 L118.64,258.42 L119.85,260.35 L121.06,262.27 L122.28,264.19 L123.49,266.09 L124.70,267.98 L125.91,269.87 L127.12,271.74 L128.33,273.60 L129.54,275.45 L130.75,277.28 L131.97,279.10 L133.18,280.91 L134.39,282.70 L135.60,284.48 L136.81,286.24 L138.02,287.99 L139.23,289.72 L140.44,291.43 L141.66,293.13 L142.87,294.80 L144.08,296.47 L145.29,298.11 L146.50,299.73 L147.71,301.34 L148.92,302.93 L150.13,304.50 L151.35,306.04 L152.56,307.57 L153.77,309.08 L154.98,310.57 L156.19,312.04 L157.40,313.49 L158.61,314.92 L159.82,316.33 L161.04,317.71 L162.25,319.08 L163.46,320.43 L164.67,321.75 L165.88,323.06 L167.09,324.34 L168.30,325.61 L169.52,326.85 L170.73,328.07 L171.94,329.27 L173.15,330.45 L174.36,331.61 L175.57,332.75 L176.78,333.87 L177.99,334.97 L179.21,336.05 L180.42,337.10 L181.63,338.14 L182.84,339.16 L184.05,340.16 L185.26,341.14 L186.47,342.09 L187.68,343.03 L188.90,343.95 L190.11,344.86 L191.32,345.74 L192.53,346.60 L193.74,347.45 L194.95,348.28 L196.16,349.08 L197.37,349.88 L198.59,350.65 L199.80,351.41 L201.01,352.15 L202.22,352.87 L203.43,353.57 L204.64,354.26 L205.85,354.93 L207.06,355.59 L208.28,356.23 L209.49,356.86 L210.70,357.47 L211.91,358.06 L213.12,358.64 L214.33,359.21 L215.54,359.76 L216.75,360.30 L217.97,360.82 L219.18,361.33 L220.39,361.83 L221.60,362.31 L222.81,362.78 L224.02,363.24 L225.23,363.68 L226.45,364.12 L227.66,364.54 L228.87,364.95 L230.08,365.35 L231.29,365.73 L232.50,366.11 L233.71,366.48 L234.92,366.83 L236.14,367.18 L237.35,367.51 L238.56,367.84 L239.77,368.15 L240.98,368.46 L242.19,368.75 L243.40,369.04 L244.61,369.32 L245.83,369.59 L247.04,369.85 L248.25,370.11 L249.46,370.36 L250.67,370.59 L251.88,370.83 L253.09,371.05 L254.30,371.27 L255.52,371.48 L256.73,371.68 L257.94,371.88 L259.15,372.07 L260.36,372.25 L261.57,372.43 L262.78,372.60 L263.99,372.76 L265.21,372.93 L266.42,373.08 L267.63,373.23 L268.84,373.38 L270.05,373.52 L271.26,373.65 L272.47,373.78 L273.68,373.91 L274.90,374.03 L276.11,374.14 L277.32,374.26 L278.53,374.37 L279.74,374.47 L280.95,374.57 L282.16,374.67 L283.38,374.76 L284.59,374.85 L285.80,374.94 L287.01,375.03 L288.22,375.11 L289.43,375.18 L290.64,375.26 L291.85,375.33 L293.07,375.40 L294.28,375.47 L295.49,375.53 L296.70,375.59 L297.91,375.65 L299.12,375.71 L300.33,375.77 L301.54,375.82 L302.76,375.87 L303.97,375.92 L305.18,375.96 L306.39,376.01 L307.60,376.05 L308.81,376.09 L310.02,376.13 L311.23,376.17 L312.45,376.21 L313.66,376.24 L314.87,376.28 L316.08,376.31 L317.29,376.34 L318.50,376.37 L319.71,376.40 L320.92,376.43 L322.14,376.45 L323.35,376.48 L324.56,376.50 L325.77,376.52 L326.98,376.55 L328.19,376.57 L329.40,376.59 L330.62,376.61 L331.83,376.62 L333.04,376.64 L334.25,376.66 L335.46,376.67 L336.67,376.69 L337.88,376.71 L339.09,376.72 L340.31,376.73 L341.52,376.75 L342.73,376.76 L343.94,376.77 L345.15,376.78 L346.36,376.79 L347.57,376.80 L348.78,376.81 L350.00,376.82 L351.21,376.83 L352.42,376.84 L353.63,376.85 L354.84,376.85 L356.05,376.86 L357.26,376.87 L358.47,376.87 L359.69,376.88 L360.90,376.89 L362.11,376.89 L363.32,376.90 L364.53,376.90 L365.74,376.91 L366.95,376.91 L368.16,376.92 L369.38,376.92 L370.59,376.93 L371.80,376.93 L373.01,376.93 L374.22,376.94 L375.43,376.94 L376.64,376.94 L377.85,376.95 L379.07,376.95 L380.28,376.95 L381.49,376.95 L382.70,376.96 L383.91,376.96 L385.12,376.96 L386.33,376.96 L387.55,376.96 L388.76,376.97 L389.97,376.97 L391.18,376.97 L392.39,376.97 L393.60,376.97 L394.81,376.97 L396.02,376.98 L397.24,376.98 L398.45,376.98 L399.66,376.98 L400.87,376.98 L402.08,376.98 L403.29,376.98 L404.50,376.98 L405.71,376.98 L406.93,376.99 L408.14,376.99 L409.35,376.99 L410.56,376.99 L411.77,376.99 L412.98,376.99 L414.19,376.99 L415.40,376.99 L416.62,376.99 L417.83,376.99 L419.04,376.99 L420.25,376.99 L421.46,376.99 L422.67,376.99 L423.88,376.99 L425.09,376.99 L426.31,376.99 L427.52,376.99 L428.73,377.00 L429.94,377.00 L431.15,377.00 L432.36,377.00 L433.57,377.00 L434.78,377.00 L436.00,377.00 L437.21,377.00 L438.42,377.00 L439.63,377.00 L440.84,377.00 L442.05,377.00 L443.26,377.00 L444.48,377.00 L445.69,377.00 L446.90,377.00 L448.11,377.00 L449.32,377.00 L450.53,377.00 L451.74,377.00 L452.95,377.00 L454.17,377.00 L455.38,377.00 L456.59,377.00 L457.80,377.00 L459.01,377.00 L460.22,377.00 L461.43,377.00 L462.64,377.00 L463.86,377.00 L465.07,377.00 L466.28,377.00 L467.49,377.00 L468.70,377.00 L469.91,377.00 L471.12,377.00 L472.33,377.00 L473.55,377.00 L474.76,377.00 L475.97,377.00 L477.18,377.00 L478.39,377.00 L479.60,377.00 L480.81,377.00 L482.02,377.00 L483.24,377.00 L484.45,377.00 L485.66,377.00 L486.87,377.00 L488.08,377.00 L489.29,377.00 L490.50,377.00 L491.72,377.00 L492.93,377.00 L494.14,377.00 L495.35,377.00 L496.56,377.00 L497.77,377.00 L498.98,377.00 L500.19,377.00 L501.41,377.00 L502.62,377.00 L503.83,377.00 L505.04,377.00 L506.25,377.00 L507.46,377.00 L508.67,377.00 L509.88,377.00 L511.10,377.00 L512.31,377.00 L513.52,377.00 L514.73,377.00 L515.94,377.00 L517.15,377.00 L518.36,377.00 L519.57,377.00 L520.79,377.00 L522.00,377.00 L523.21,377.00 L524.42,377.00 L525.63,377.00 L526.84,377.00 L528.05,377.00 L529.26,377.00 L530.48,377.00 L531.69,377.00 L532.90,377.00 L534.11,377.00 L535.32,377.00 L536.53,377.00 L537.74,377.00 L538.95,377.00 L540.17,377.00 L541.38,377.00 L542.59,377.00 L543.80,377.00" class="b"/>
<g class="tl"><text transform="translate(52.6,381.50) scale(0.92,1)" text-anchor="end">0</text><text transform="translate(52.6,335.69) scale(0.92,1)" text-anchor="end">0.05</text><text transform="translate(52.6,289.88) scale(0.92,1)" text-anchor="end">0.1</text><text transform="translate(52.6,244.06) scale(0.92,1)" text-anchor="end">0.15</text><text transform="translate(52.6,198.25) scale(0.92,1)" text-anchor="end">0.2</text><text transform="translate(52.6,152.44) scale(0.92,1)" text-anchor="end">0.25</text><text transform="translate(52.6,106.62) scale(0.92,1)" text-anchor="end">0.3</text><text transform="translate(52.6,60.81) scale(0.92,1)" text-anchor="end">0.35</text><text transform="translate(52.6,15.00) scale(0.92,1)" text-anchor="end">0.4</text><text transform="translate(59.30,397.3) scale(0.92,1)" text-anchor="middle">0</text><text transform="translate(107.63,397.3) scale(0.92,1)" text-anchor="middle">0.5</text><text transform="translate(155.96,397.3) scale(0.92,1)" text-anchor="middle">1</text><text transform="translate(204.29,397.3) scale(0.92,1)" text-anchor="middle">1.5</text><text transform="translate(252.62,397.3) scale(0.92,1)" text-anchor="middle">2</text><text transform="translate(300.95,397.3) scale(0.92,1)" text-anchor="middle">2.5</text><text transform="translate(349.28,397.3) scale(0.92,1)" text-anchor="middle">3</text><text transform="translate(397.61,397.3) scale(0.92,1)" text-anchor="middle">3.5</text><text transform="translate(445.94,397.3) scale(0.92,1)" text-anchor="middle">4</text><text transform="translate(494.27,397.3) scale(0.92,1)" text-anchor="middle">4.5</text><text transform="translate(542.60,397.3) scale(0.92,1)" text-anchor="middle">5</text></g>
<text x="298.3" y="420.3" font-family="Liberation Serif" font-style="italic" font-size="15.5" fill="#444">ζ</text>
<text transform="translate(17.2,207.3) rotate(-90)" font-family="Liberation Serif" font-style="italic" font-size="16" fill="#555">φ(ζ)</text>
<g class="lg">
<text x="300.9" y="73.7" textLength="38.2" lengthAdjust="spacingAndGlyphs">Solid</text>
<text transform="translate(366.9,73.7) scale(0.75,1)">:</text>
<text x="377.5" y="73.7" textLength="41.5" lengthAdjust="spacingAndGlyphs">Plate</text>
<text x="301" y="102.3" textLength="56.5" lengthAdjust="spacingAndGlyphs">Dashed</text>
<text transform="translate(363.3,102.3) scale(0.75,1)">:</text>
<text x="373.7" y="102.3" textLength="50.2" lengthAdjust="spacingAndGlyphs">Wedge</text>
<text x="301" y="130.8" textLength="50.4" lengthAdjust="spacingAndGlyphs">Dotted</text>
<text transform="translate(356.4,130.8) scale(0.75,1)">:</text>
<text x="367" y="130.8" textLength="38.4" lengthAdjust="spacingAndGlyphs">Cone</text>
</g>
<text x="224" y="193.5" font-style="italic" font-size="12.5" fill="#666">β</text>
<text x="232" y="193.4" font-size="14.3" fill="#222" stroke="#222" stroke-width="0.2" textLength="72" lengthAdjust="spacingAndGlyphs">=0.1,0.3,0.5</text>
<line x1="128.6" y1="317.9" x2="240" y2="211" stroke="#000" stroke-width="3"/>
<polygon points="249.7,202.6 228.5,212 236,215.5 240,223" fill="#000"/>
</svg>
</body></html>
